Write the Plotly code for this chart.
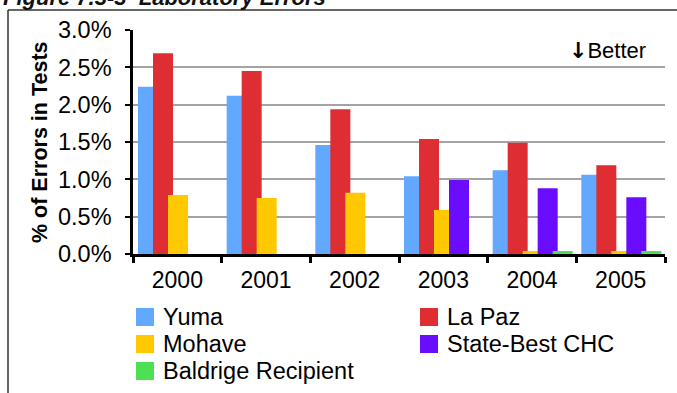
import plotly.graph_objects as go

# Laboratory error rates (% of tests) by year
years = ["2000", "2001", "2002", "2003", "2004", "2005"]
yuma = [2.24, 2.12, 1.46, 1.04, 1.12, 1.06]
la_paz = [2.69, 2.45, 1.94, 1.54, 1.49, 1.19]
mohave = [0.79, 0.75, 0.82, 0.59, 0.04, 0.04]
state_best = [None, None, None, 0.99, 0.88, 0.76]
baldrige = [None, None, None, None, 0.04, 0.04]

series_names = ["Yuma", "La Paz", "Mohave", "State-Best CHC", "Baldrige Recipient"]
series_values = [yuma, la_paz, mohave, state_best, baldrige]
series_colors = ["#63A8FF", "#DE2D33", "#FFC800", "#6A0DFF", "#4CE052"]

y_ticks = [0, 0.5, 1.0, 1.5, 2.0, 2.5, 3.0]
y_tick_labels = ["0.0%", "0.5%", "1.0%", "1.5%", "2.0%", "2.5%", "3.0%"]

FONT = "Liberation Sans, Arial, sans-serif"
W, H = 677, 393
ML, MR, MT, MB = 133, 12, 30, 139
PW, PH = W - ML - MR, H - MT - MB


def px(x):
    return (x - ML) / PW


def py(y):
    return (H - MB - y) / PH


# overlapping clustered bars: each bar 20px wide, stepped 15px within a category
cat_px = PW / len(years)
bar_w = 20 / cat_px
step = 15 / cat_px
first = -0.5 + 5 / cat_px

fig = go.Figure()
for i, (name, vals, col) in enumerate(zip(series_names, series_values, series_colors)):
    fig.add_trace(go.Bar(
        x=years, y=vals, name=name, marker=dict(color=col, line=dict(width=0)),
        width=bar_w, offset=first + i * step, showlegend=False,
    ))

shapes = []
annotations = []

# legend drawn as two columns of swatches with labels
legend_cols = [136, 420]
legend_rows = [317, 344, 371]
for i, (name, col) in enumerate(zip(series_names, series_colors)):
    cx = legend_cols[i % 2]
    cy = legend_rows[i // 2]
    shapes.append(dict(type="rect", xref="paper", yref="paper",
                       x0=px(cx), x1=px(cx + 18), y0=py(cy - 9), y1=py(cy + 9),
                       fillcolor=col, line=dict(width=0)))
    annotations.append(dict(text=name, xref="paper", yref="paper",
                            x=px(cx + 25), y=py(cy), xanchor="left", yanchor="middle",
                            showarrow=False, font=dict(size=23.5, color="#000", family=FONT)))

# outer frame (left and top edges)
shapes.append(dict(type="line", xref="paper", yref="paper",
                   x0=px(8), x1=px(8), y0=py(H + 5), y1=py(10),
                   line=dict(color="#333", width=1.5)))
shapes.append(dict(type="line", xref="paper", yref="paper",
                   x0=px(8), x1=px(W + 5), y0=py(10), y1=py(10),
                   line=dict(color="#333", width=1.5)))

annotations.append(dict(text="<b><i>Figure 7.3-3  Laboratory Errors</i></b>", xref="paper", yref="paper",
                        x=px(1), y=py(6), xanchor="left", yanchor="bottom", yshift=-6,
                        showarrow=False, font=dict(size=22, color="#111", family=FONT)))
annotations.append(dict(text="<b>% of Errors in Tests</b>", xref="paper", yref="paper",
                        x=px(40), y=py(142), xanchor="center", yanchor="middle",
                        textangle=-90, showarrow=False,
                        font=dict(size=21.5, color="#000", family=FONT)))
annotations.append(dict(text="<span style='font-family:DejaVu Sans;font-weight:bold'>\u2193</span>Better",
                        xref="paper", yref="paper",
                        x=px(648), y=py(50), xanchor="right", yanchor="middle",
                        showarrow=False, font=dict(size=22, color="#000", family=FONT)))

fig.update_layout(
    width=W, height=H,
    margin=dict(l=ML, r=MR, t=MT, b=MB),
    paper_bgcolor="white", plot_bgcolor="white",
    barmode="overlay",
    font=dict(family=FONT, size=22, color="#000"),
    shapes=shapes, annotations=annotations,
    xaxis=dict(type="category", showline=True, linecolor="black", linewidth=2.5,
               ticks="outside", tickson="boundaries", ticklen=6, tickwidth=2.5,
               tickcolor="black", showgrid=False, tickfont=dict(size=23),
               ticklabelstandoff=4),
    yaxis=dict(range=[0, 3.0], tickvals=y_ticks, ticktext=y_tick_labels,
               showline=True, linecolor="black", linewidth=2.5,
               ticks="outside", ticklen=5, tickwidth=2, tickcolor="black",
               showgrid=True, gridcolor="#a3a3a3", gridwidth=2,
               zeroline=False, tickfont=dict(size=23.5), ticklabelstandoff=9),
)

fig.write_html("out.html")
